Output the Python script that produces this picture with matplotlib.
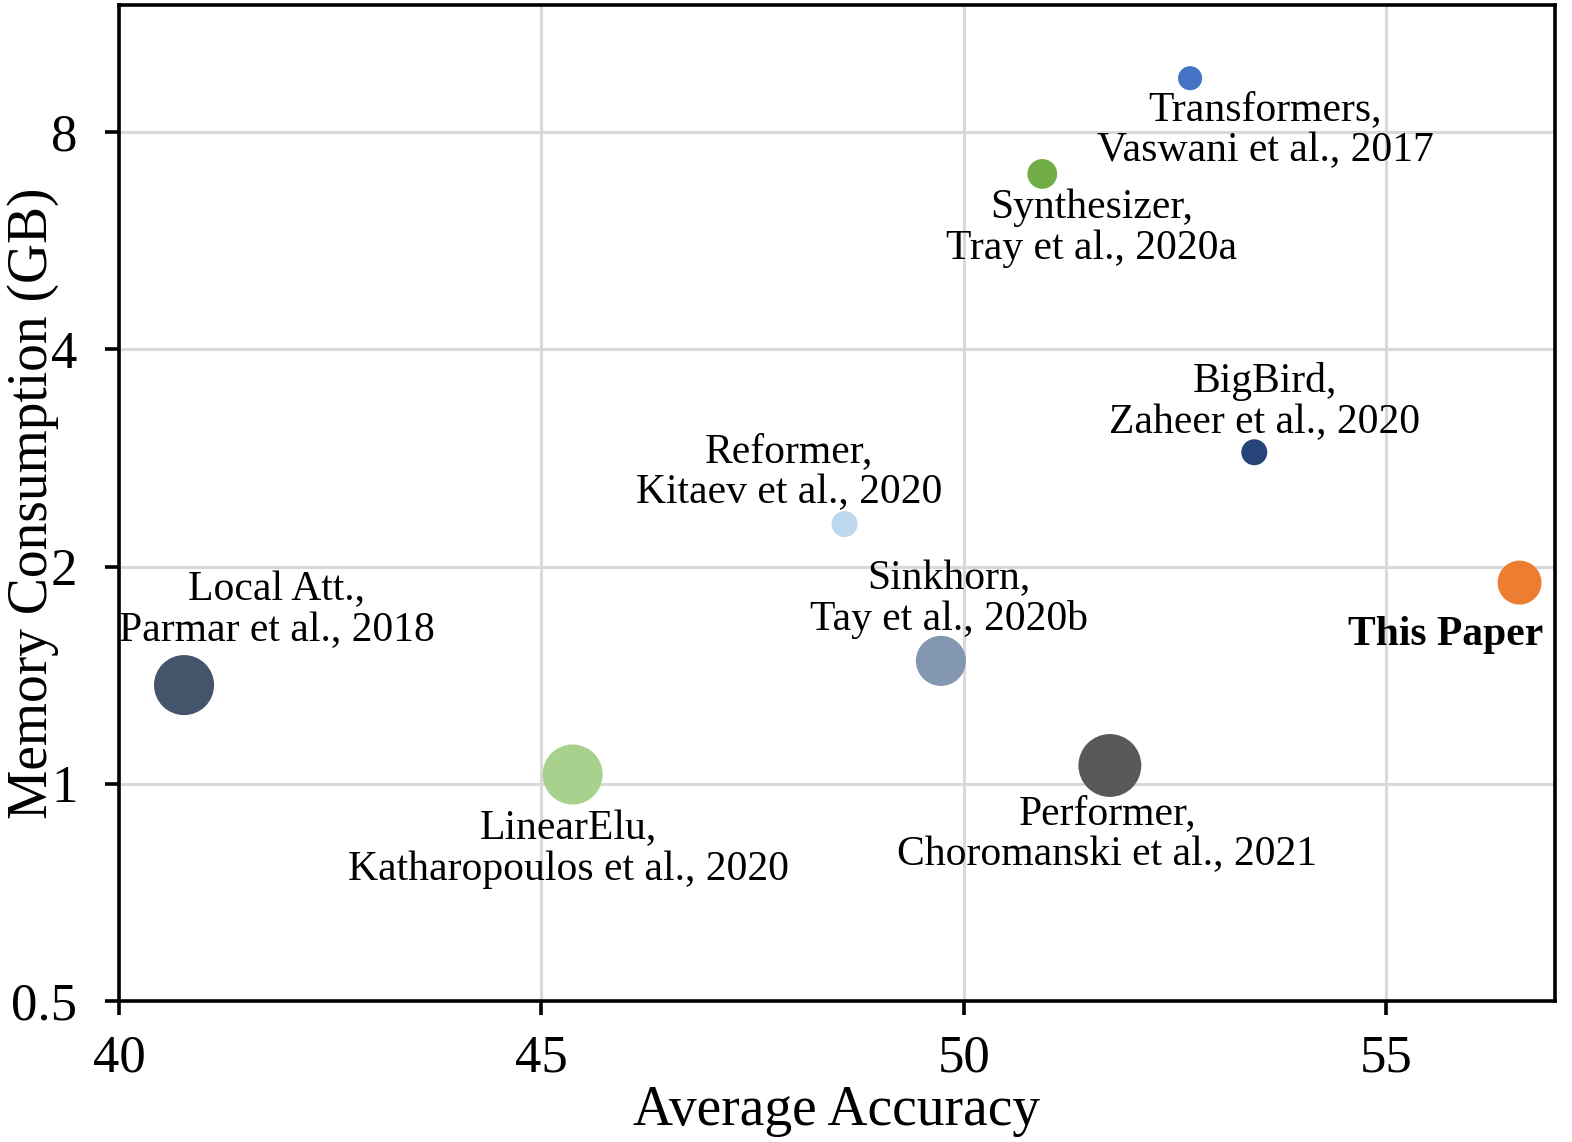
import numpy as np
import matplotlib
matplotlib.use("Agg")
import matplotlib.pyplot as plt
from matplotlib.ticker import FixedLocator, NullLocator

plt.rcParams['font.family'] = ['Liberation Serif', 'DejaVu Serif']

# data
models = ["Transformers", "Synthesizer", "BigBird", "Reformer", "This Paper",
          "Sinkhorn", "Local Att.", "LinearElu", "Performer"]
labels = ["Transformers,\nVaswani et al., 2017",
          "Synthesizer,\nTray et al., 2020a",
          "BigBird,\nZaheer et al., 2020",
          "Reformer,\nKitaev et al., 2020",
          "This Paper",
          "Sinkhorn,\nTay et al., 2020b",
          "Local Att.,\nParmar et al., 2018",
          "LinearElu,\nKatharopoulos et al., 2020",
          "Performer,\nChoromanski et al., 2021"]
accuracy = [52.68, 50.93, 53.44, 48.59, 56.58, 49.73, 40.77, 45.37, 51.73]
memory = [9.5, 7.0, 2.88, 2.29, 1.90, 1.48, 1.37, 1.03, 1.06]
bubble = [300, 460, 350, 350, 1000, 1300, 1870, 1870, 2050]
colors = ["#4472C4", "#70AD47", "#264478", "#BDD7EE", "#ED7D31",
          "#8497B0", "#44546A", "#A9D18E", "#595959"]

# label anchor (center of text block)
label_x = [53.57, 51.51, 53.56, 47.93, 55.71, 49.82, 41.87, 45.32, 51.70]
label_y = [8.05, 5.89, 3.38, 2.70, 1.61, 1.80, 1.74, 0.812, 0.85]

xticks = [40, 45, 50, 55]
yticks = [0.5, 1, 2, 4, 8]
ytick_labels = ["0.5", "1", "2", "4", "8"]

fig = plt.figure(figsize=(15.72, 11.42), dpi=100)
ax = fig.add_axes([0.0757, 0.1235, 0.9135, 0.8721])

ax.scatter(accuracy, memory, s=bubble, c=colors, zorder=3, linewidths=0)

for i in range(len(models)):
    bold = models[i] == "This Paper"
    ax.text(label_x[i], label_y[i], labels[i], ha="center", va="center",
            fontsize=30, fontweight="bold" if bold else "normal",
            linespacing=1.08, zorder=4)

ax.set_yscale("log", base=2)
ax.set_xlim(40, 57)
ax.set_ylim(0.5, 12)
ax.set_xticks(xticks)
ax.yaxis.set_major_locator(FixedLocator(yticks))
ax.yaxis.set_minor_locator(NullLocator())
ax.set_yticklabels(ytick_labels)

ax.grid(True, color="#D9D9D9", linewidth=2.2, zorder=0)
ax.set_axisbelow(True)
for sp in ax.spines.values():
    sp.set_linewidth(2.6)
    sp.set_color("black")

ax.tick_params(axis="both", which="major", length=10, width=2.6,
               labelsize=38, direction="out")
ax.tick_params(axis="y", pad=20)
ax.tick_params(axis="x", pad=14)

ax.set_xlabel("Average Accuracy", fontsize=40, labelpad=2)
ax.set_ylabel("Memory Consumption (GB)", fontsize=40)
ax.yaxis.set_label_coords(-0.042, 0.5)

fig.savefig("out.png", dpi=100)
